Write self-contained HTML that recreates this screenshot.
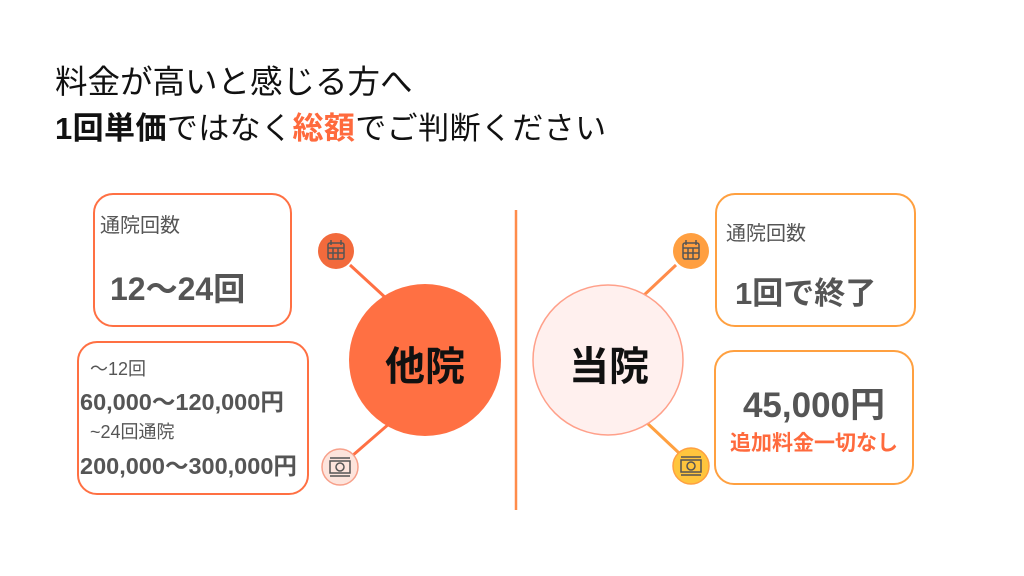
<!DOCTYPE html>
<html><head><meta charset="utf-8"><style>
body{margin:0;width:1024px;height:576px;background:#fff;position:relative;overflow:hidden;font-family:"Liberation Sans","Noto Sans CJK JP",sans-serif;}
.a{position:absolute;white-space:nowrap;}
.box{position:absolute;box-sizing:border-box;border-radius:20px;background:#fff;}
.g{color:#555;}
</style></head><body>
<div class="a" style="left:55px;top:56px;font-size:32.5px;color:#111;">料金が高いと感じる方へ</div>
<div class="a" style="left:55px;top:103px;font-size:31px;color:#111;letter-spacing:0.4px;"><b>1回単価</b>ではなく<b style="color:#ff6a3d">総額</b>でご判断ください</div>

<svg class="a" style="left:0;top:0" width="1024" height="576">
<line x1="350" y1="265" x2="388" y2="300" stroke="#ff7043" stroke-width="3"/>
<line x1="352" y1="456" x2="390" y2="423" stroke="#ff7043" stroke-width="3"/>
<line x1="516" y1="210" x2="516" y2="510" stroke="#ff8c4a" stroke-width="2.5"/>
<line x1="676" y1="265" x2="642" y2="297" stroke="#ff8c4a" stroke-width="3"/>
<line x1="646" y1="422" x2="679" y2="453" stroke="#ffa040" stroke-width="3"/>
<circle cx="425" cy="360" r="76" fill="#ff7043"/>
<circle cx="608" cy="360" r="75" fill="#fff0ee" stroke="#ffa08a" stroke-width="1.5"/>
<circle cx="336" cy="251" r="18" fill="#f26a3c"/>
<circle cx="340" cy="467" r="18" fill="#fde4dc" stroke="#f7a08a" stroke-width="1.5"/>
<circle cx="691" cy="251" r="18" fill="#ff9f40"/>
<circle cx="691" cy="466" r="18" fill="#ffc53d" stroke="#ffa040" stroke-width="1.5"/>
<g fill="none" stroke="#555" stroke-width="1.5">
<rect x="328" y="243" width="16" height="16" rx="2"/><line x1="331" y1="240" x2="331" y2="245"/><line x1="341" y1="240" x2="341" y2="245"/><line x1="328" y1="248" x2="344" y2="248"/><line x1="333" y1="248" x2="333" y2="259"/><line x1="338" y1="248" x2="338" y2="259"/><line x1="328" y1="253" x2="344" y2="253"/>
<rect x="683" y="243" width="16" height="16" rx="2"/><line x1="686" y1="240" x2="686" y2="245"/><line x1="696" y1="240" x2="696" y2="245"/><line x1="683" y1="248" x2="699" y2="248"/><line x1="688" y1="248" x2="688" y2="259"/><line x1="693" y1="248" x2="693" y2="259"/><line x1="683" y1="253" x2="699" y2="253"/>
<rect x="330" y="461" width="20" height="12"/><circle cx="340" cy="467" r="4"/><line x1="330" y1="458" x2="350" y2="458"/><line x1="330" y1="476" x2="350" y2="476"/>
<rect x="681" y="460" width="20" height="12"/><circle cx="691" cy="466" r="4"/><line x1="681" y1="457" x2="701" y2="457"/><line x1="681" y1="475" x2="701" y2="475"/>
</g>
</svg>

<div class="a" style="left:349px;top:334px;width:152px;text-align:center;font-size:40px;font-weight:bold;color:#111;">他院</div>
<div class="a" style="left:533px;top:334px;width:152px;text-align:center;font-size:40px;font-weight:bold;color:#111;">当院</div>

<div class="box" style="left:93px;top:193px;width:199px;height:134px;border:2.5px solid #ff7043;"></div>
<div class="a g" style="left:100px;top:209px;font-size:20px;">通院回数</div>
<div class="a" style="left:110px;top:264px;font-size:32px;font-weight:bold;color:#555;">12〜24回</div>

<div class="box" style="left:77px;top:341px;width:232px;height:154px;border:2.5px solid #ff7043;"></div>
<div class="a g" style="left:90px;top:355px;font-size:18px;">〜12回</div>
<div class="a" style="left:80px;top:383px;font-size:23.5px;font-weight:bold;color:#555;">60,000〜120,000円</div>
<div class="a g" style="left:90px;top:418px;font-size:18px;">~24回通院</div>
<div class="a" style="left:80px;top:447px;font-size:23.5px;font-weight:bold;color:#555;">200,000〜300,000円</div>

<div class="box" style="left:715px;top:193px;width:201px;height:134px;border:2.5px solid #ffa040;"></div>
<div class="a g" style="left:726px;top:217px;font-size:20px;">通院回数</div>
<div class="a" style="left:735px;top:268px;font-size:31px;font-weight:bold;color:#555;">1回で終了</div>

<div class="box" style="left:714px;top:350px;width:200px;height:135px;border:2.5px solid #ffa040;"></div>
<div class="a" style="left:714px;top:377px;width:200px;text-align:center;font-size:35px;font-weight:bold;color:#555;">45,000円</div>
<div class="a" style="left:714px;top:427px;width:200px;text-align:center;font-size:21px;font-weight:bold;color:#ff6a3d;">追加料金一切なし</div>
</body></html>
